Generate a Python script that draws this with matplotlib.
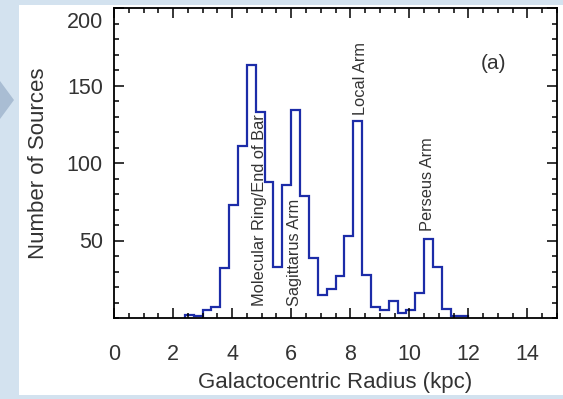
import matplotlib
matplotlib.use('Agg')
import matplotlib.pyplot as plt
import matplotlib.patches as patches
import matplotlib.transforms as mtransforms
from matplotlib.ticker import MultipleLocator

plt.rcParams['font.family'] = ['Liberation Sans', 'DejaVu Sans']

# Histogram of source counts vs galactocentric radius (0.3 kpc bins)
bin_edges = [2.4, 2.7, 3.0, 3.3, 3.6, 3.9, 4.2, 4.5, 4.8, 5.1, 5.4, 5.7, 6.0,
             6.3, 6.6, 6.9, 7.2, 7.5, 7.8, 8.1, 8.4, 8.7, 9.0, 9.3, 9.6, 9.9,
             10.2, 10.5, 10.8, 11.1, 11.4, 11.7, 12.0]
counts = [2, 1, 5, 7, 32, 73, 111, 163, 133, 88, 33, 86, 134, 79, 39, 15,
          19, 27, 53, 127, 28, 7, 5, 11, 3, 5, 16, 51, 33, 6, 1, 1]

# Spiral arm annotations (x position, bottom of text)
arm_labels = ['Molecular Ring/End of Bar', 'Sagittarus Arm', 'Local Arm', 'Perseus Arm']
arm_x = [4.93, 6.1, 8.35, 10.63]
arm_y = [8, 8, 131, 56]

x_ticks = [0, 2, 4, 6, 8, 10, 12, 14]
y_ticks = [50, 100, 150, 200]

text_color = '#333333'
line_color = '#1c2ca8'

fig = plt.figure(figsize=(5.63, 3.99), dpi=100, facecolor='#d3e2ef')
# white panel over the light blue backdrop
panel = patches.Rectangle((19 / 563, 4 / 399), 1 - 19 / 563, 1 - 9 / 399,
                          transform=fig.transFigure, facecolor='white',
                          edgecolor='none', zorder=-10)
fig.add_artist(panel)
arrow = patches.Polygon([(0, 318 / 399), (14 / 563, 299 / 399), (0, 280 / 399)],
                        closed=True, transform=fig.transFigure,
                        facecolor='#a9bdd3', edgecolor='none', zorder=-10)
fig.add_artist(arrow)

ax = fig.add_axes([114 / 563, 81 / 399, 443 / 563, 310 / 399])
ax.set_facecolor('white')

ax.stairs(counts, bin_edges, color=line_color, linewidth=1.6)

for lab, x, y in zip(arm_labels, arm_x, arm_y):
    ax.text(x, y, lab, rotation=90, ha='center', va='bottom',
            fontsize=11.8, color=text_color)

ax.text(12.85, 164, '(a)', ha='center', va='center', fontsize=15, color=text_color)

ax.set_xlim(0, 15)
ax.set_ylim(0, 200)
ax.set_xticks(x_ticks)
ax.set_yticks(y_ticks)
ax.xaxis.set_minor_locator(MultipleLocator(0.5))
ax.yaxis.set_minor_locator(MultipleLocator(10))

ax.tick_params(which='both', direction='in', top=True, right=True,
               labelcolor=text_color, labelsize=15.5, color='black')
ax.tick_params(which='major', length=7, width=1.1)
ax.tick_params(which='minor', length=3.5, width=1.1)
ax.tick_params(axis='x', which='major', pad=19)
ax.tick_params(axis='y', which='major', pad=8)

for s in ax.spines.values():
    s.set_linewidth(1.3)

ax.set_xlabel('Galactocentric Radius (kpc)', fontsize=16, color=text_color, labelpad=5)
ax.set_ylabel('Number of Sources', fontsize=16, color=text_color, labelpad=13)

# top label sits a little below its tick, as in the original
fig.canvas.draw()
for lbl in ax.get_yticklabels():
    if lbl.get_text() == '200':
        lbl.set_transform(lbl.get_transform() +
                          mtransforms.ScaledTranslation(0, -0.12, fig.dpi_scale_trans))

fig.savefig('out.png', dpi=100, facecolor=fig.get_facecolor())
